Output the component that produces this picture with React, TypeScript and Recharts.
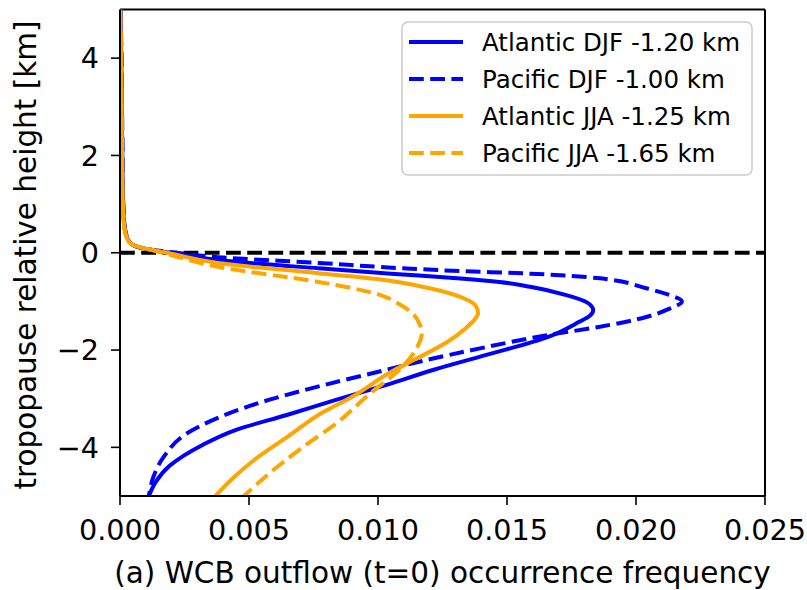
import React from "react";
import {
  LineChart,
  Line,
  XAxis,
  YAxis,
  ReferenceLine,
  Label,
} from "recharts";

// vertical profiles: occurrence frequency (f) against tropopause relative height (h, km)
const atlDjfH = [5, 4, 3, 2, 1, 0.6, 0.4, 0.25, 0.16, 0.06, 0, -0.15, -0.32, -0.43, -0.53, -0.6, -0.7, -0.87, -1.02, -1.18, -1.3, -1.42, -1.73, -2.1, -2.4, -2.72, -3.02, -3.33, -3.64, -3.95, -4.39, -4.7, -5];
const atlDjfF = [0.00002, 0.00005, 0.00007, 0.00009, 0.00012, 0.00016, 0.00022, 0.00033, 0.0005, 0.0012, 0.0019, 0.0038, 0.0077, 0.0105, 0.0132, 0.0147, 0.0159, 0.0173, 0.0181, 0.01834, 0.0182, 0.0178, 0.0166, 0.0142, 0.0122, 0.0103, 0.0084, 0.0065, 0.0045, 0.0032, 0.0019, 0.0014, 0.00112];

const pacDjfH = [5, 4, 3, 2, 1, 0.6, 0.4, 0.25, 0.16, 0.06, 0, -0.09, -0.21, -0.32, -0.37, -0.43, -0.52, -0.73, -0.87, -1.0, -1.15, -1.32, -1.53, -1.69, -1.96, -2.24, -2.41, -2.72, -3.02, -3.37, -3.71, -4.19, -4.6, -5];
const pacDjfF = [0.00002, 0.00006, 0.00008, 0.0001, 0.00013, 0.00017, 0.00023, 0.00034, 0.0005, 0.0012, 0.0022, 0.0038, 0.0077, 0.011, 0.0129, 0.0159, 0.0185, 0.0204, 0.0213, 0.02178, 0.0213, 0.0204, 0.0185, 0.0166, 0.014, 0.0116, 0.0103, 0.0079, 0.0058, 0.0039, 0.0026, 0.0017, 0.0013, 0.00112];

const atlJjaH = [5, 4, 3, 2, 1, 0.6, 0.4, 0.25, 0.16, 0.06, 0, -0.21, -0.42, -0.55, -0.73, -0.93, -1.1, -1.24, -1.4, -1.55, -1.83, -2.2, -2.45, -2.96, -3.3, -3.78, -4.26, -4.67, -5];
const atlJjaF = [0.00001, 0.00004, 0.00006, 0.00008, 0.00011, 0.00015, 0.00021, 0.00032, 0.0005, 0.0012, 0.0018, 0.0038, 0.0077, 0.0101, 0.012, 0.0133, 0.0138, 0.01388, 0.0137, 0.0134, 0.0127, 0.0114, 0.0105, 0.009, 0.0078, 0.0065, 0.0052, 0.0043, 0.0037];

const pacJjaH = [5, 4, 3, 2, 1, 0.6, 0.4, 0.25, 0.16, 0.06, 0, -0.29, -0.6, -0.87, -1.05, -1.28, -1.45, -1.65, -1.96, -2.37, -2.89, -3.5, -3.99, -4.53, -5];
const pacJjaF = [0.00001, 0.00004, 0.00006, 0.00008, 0.00011, 0.00015, 0.00021, 0.00032, 0.0005, 0.0012, 0.00165, 0.0038, 0.0077, 0.0101, 0.0108, 0.0114, 0.0116, 0.0117, 0.0115, 0.0109, 0.0097, 0.0084, 0.0071, 0.0058, 0.0048];

const freqTicks = [0, 0.005, 0.01, 0.015, 0.02, 0.025];
const heightTicks = [-4, -2, 0, 2, 4];

const toRows = (h: number[], f: number[]) => h.map((v, i) => ({ h: v, f: f[i] }));

const series = [
  { name: "Atlantic DJF -1.20 km", color: "#0000ff", dash: undefined, rows: toRows(atlDjfH, atlDjfF) },
  { name: "Pacific DJF -1.00 km", color: "#0000ff", dash: "14.8 6.4", rows: toRows(pacDjfH, pacDjfF) },
  { name: "Atlantic JJA -1.25 km", color: "#ffa500", dash: undefined, rows: toRows(atlJjaH, atlJjaF) },
  { name: "Pacific JJA -1.65 km", color: "#ffa500", dash: "14.8 6.4", rows: toRows(pacJjaH, pacJjaF) },
];

const FONT = "DejaVu Sans";
const fmtHeight = (v: number) => (v < 0 ? "\u2212" + Math.abs(v) : String(v));

function LegendBox() {
  return (
    <svg
      width={352}
      height={155}
      style={{ position: "absolute", left: 401, top: 21 }}
    >
      <rect x={1} y={1} width={350} height={153} rx={6} fill="#fff" fillOpacity={0.8} stroke="#cccccc" strokeWidth={1.5} />
      {series.map((s, i) => {
        const cy = 21 + i * 37;
        return (
          <g key={s.name}>
            <line x1={8} x2={62} y1={cy} y2={cy} stroke={s.color} strokeWidth={4} strokeDasharray={s.dash} />
            <text x={81} y={cy} dy="0.36em" fontFamily={FONT} fontSize={24.5} fill="#000">
              {s.name}
            </text>
          </g>
        );
      })}
    </svg>
  );
}

export default function App() {
  return (
    <div style={{ position: "absolute", left: 0, top: 0, width: 807, height: 590, background: "#fff" }}>
      <LineChart
        width={807}
        height={590}
        margin={{ top: 9.5, right: 42, bottom: 14, left: 60 }}
      >
        <XAxis
          dataKey="f"
          type="number"
          domain={[0, 0.025]}
          ticks={freqTicks}
          allowDataOverflow
          tickFormatter={(v: number) => v.toFixed(3)}
          height={80}
          tickSize={9}
          tickMargin={14.5}
          axisLine={{ stroke: "#000", strokeWidth: 2 }}
          tickLine={{ stroke: "#000", strokeWidth: 1.6 }}
          tick={{ fill: "#000", fontSize: 28.7, fontFamily: FONT }}
        >
          <Label
            value="(a) WCB outflow (t=0) occurrence frequency"
            position="insideBottom"
            offset={-7}
            fill="#000"
            fontSize={29.5}
            fontFamily={FONT}
          />
        </XAxis>
        <YAxis
          type="number"
          domain={[-5, 5]}
          ticks={heightTicks}
          allowDataOverflow
          tickFormatter={fmtHeight}
          width={60}
          tickSize={9}
          tickMargin={12}
          axisLine={{ stroke: "#000", strokeWidth: 2 }}
          tickLine={{ stroke: "#000", strokeWidth: 1.6 }}
          tick={{ fill: "#000", fontSize: 28.7, fontFamily: FONT }}
        >
          <Label
            content={() => (
              <text
                x={26}
                y={255}
                transform="rotate(-90 26 255)"
                textAnchor="middle"
                dominantBaseline="central"
                fontFamily={FONT}
                fontSize={29.5}
                fill="#000"
              >
                tropopause relative height [km]
              </text>
            )}
          />
        </YAxis>
        {/* top and right spines */}
        <ReferenceLine y={5} stroke="#000" strokeWidth={2} />
        <ReferenceLine x={0.025} stroke="#000" strokeWidth={2} />
        <ReferenceLine y={0} stroke="#000" strokeWidth={4} strokeDasharray="14.8 6.4" />
        {series.map((s) => (
          <Line
            key={s.name}
            data={s.rows}
            dataKey="h"
            name={s.name}
            stroke={s.color}
            strokeWidth={4}
            strokeDasharray={s.dash}
            type="monotoneY"
            dot={false}
            activeDot={false}
            isAnimationActive={false}
          />
        ))}
      </LineChart>
      <LegendBox />
    </div>
  );
}
